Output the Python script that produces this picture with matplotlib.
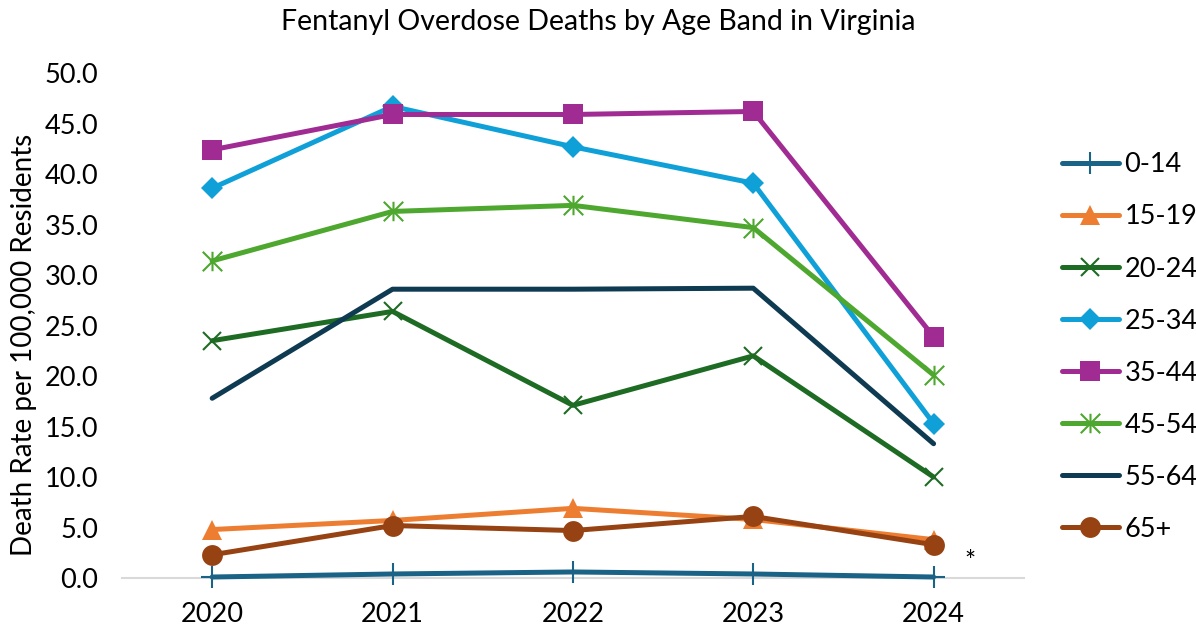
import numpy as np
import matplotlib
matplotlib.use('Agg')
import matplotlib.pyplot as plt
from matplotlib.path import Path

# 数据
years = ['2020', '2021', '2022', '2023', '2024']
bands = ['0-14', '15-19', '20-24', '25-34', '35-44', '45-54', '55-64', '65+']
rate_0_14 = [0.1, 0.4, 0.6, 0.4, 0.1]
rate_15_19 = [4.8, 5.7, 6.9, 5.8, 3.8]
rate_20_24 = [23.5, 26.4, 17.1, 22.0, 10.0]
rate_25_34 = [38.6, 46.7, 42.7, 39.1, 15.3]
rate_35_44 = [42.4, 45.9, 45.9, 46.2, 23.9]
rate_45_54 = [31.4, 36.3, 36.9, 34.7, 20.1]
rate_55_64 = [17.8, 28.6, 28.6, 28.7, 13.3]
rate_65 = [2.3, 5.2, 4.7, 6.1, 3.3]

plt.rcParams['font.family'] = ['Lato', 'DejaVu Sans']

# 星形标记：竖线 + X
star = Path([(0, -1), (0, 1), (-1, -1), (1, 1), (-1, 1), (1, -1)],
            [Path.MOVETO, Path.LINETO, Path.MOVETO, Path.LINETO,
             Path.MOVETO, Path.LINETO])

series = [
    (rate_0_14, '#1a6286', '+', 16, 1.5),
    (rate_15_19, '#ed7d31', '^', 14, 0),
    (rate_20_24, '#1e6b24', 'x', 13, 1.5),
    (rate_25_34, '#10a0d8', 'D', 11, 0),
    (rate_35_44, '#a02b93', 's', 14, 0),
    (rate_45_54, '#4ea72e', star, 14, 1.5),
    (rate_55_64, '#0e3a52', None, 0, 0),
    (rate_65, '#974212', 'o', 15, 0),
]

fig = plt.figure(figsize=(11.96, 6.3), dpi=100)
ax = fig.add_axes([0.102, 0.0825, 0.754, 0.8015])
x = np.arange(len(years))

for (vals, col, mk, ms, mew), name in zip(series, bands):
    ax.plot(x, vals, color=col, lw=3.6, marker=mk, markersize=ms,
            markeredgewidth=mew, markeredgecolor=col, markerfacecolor=col,
            solid_capstyle='round', solid_joinstyle='round', label=name,
            clip_on=False)

ax.set_xlim(-0.5, 4.5)
ax.set_ylim(0, 50)
ax.set_xticks(x)
ax.set_xticklabels(years, fontsize=19.5)
ax.set_yticks(np.arange(0, 51, 5))
ax.set_yticklabels(['%.1f' % v for v in np.arange(0, 51, 5)], fontsize=19.5)
ax.tick_params(length=0)
ax.tick_params(axis='x', pad=17)
ax.tick_params(axis='y', pad=17)
for s in ['top', 'right', 'left']:
    ax.spines[s].set_visible(False)
ax.spines['bottom'].set_color('#d9d9d9')
ax.spines['bottom'].set_linewidth(1.5)
ax.spines['bottom'].set_zorder(0)

ax.set_ylabel('Death Rate per 100,000 Residents', fontsize=20)
ax.yaxis.set_label_coords(-0.094, 0.461)
fig.text(0.5, 0.965, 'Fentanyl Overdose Deaths by Age Band in Virginia',
         ha='center', va='center', fontsize=20.5)
ax.text(4.2, 1.5, '*', fontsize=19, ha='center', va='center')

fig.legend(loc='center left', bbox_to_anchor=(0.888, 0.449), frameon=False,
           fontsize=19.5, handlelength=2.1, labelspacing=1.0, handletextpad=0.2,
           borderpad=0, borderaxespad=0)

fig.savefig('out.png', dpi=100)
